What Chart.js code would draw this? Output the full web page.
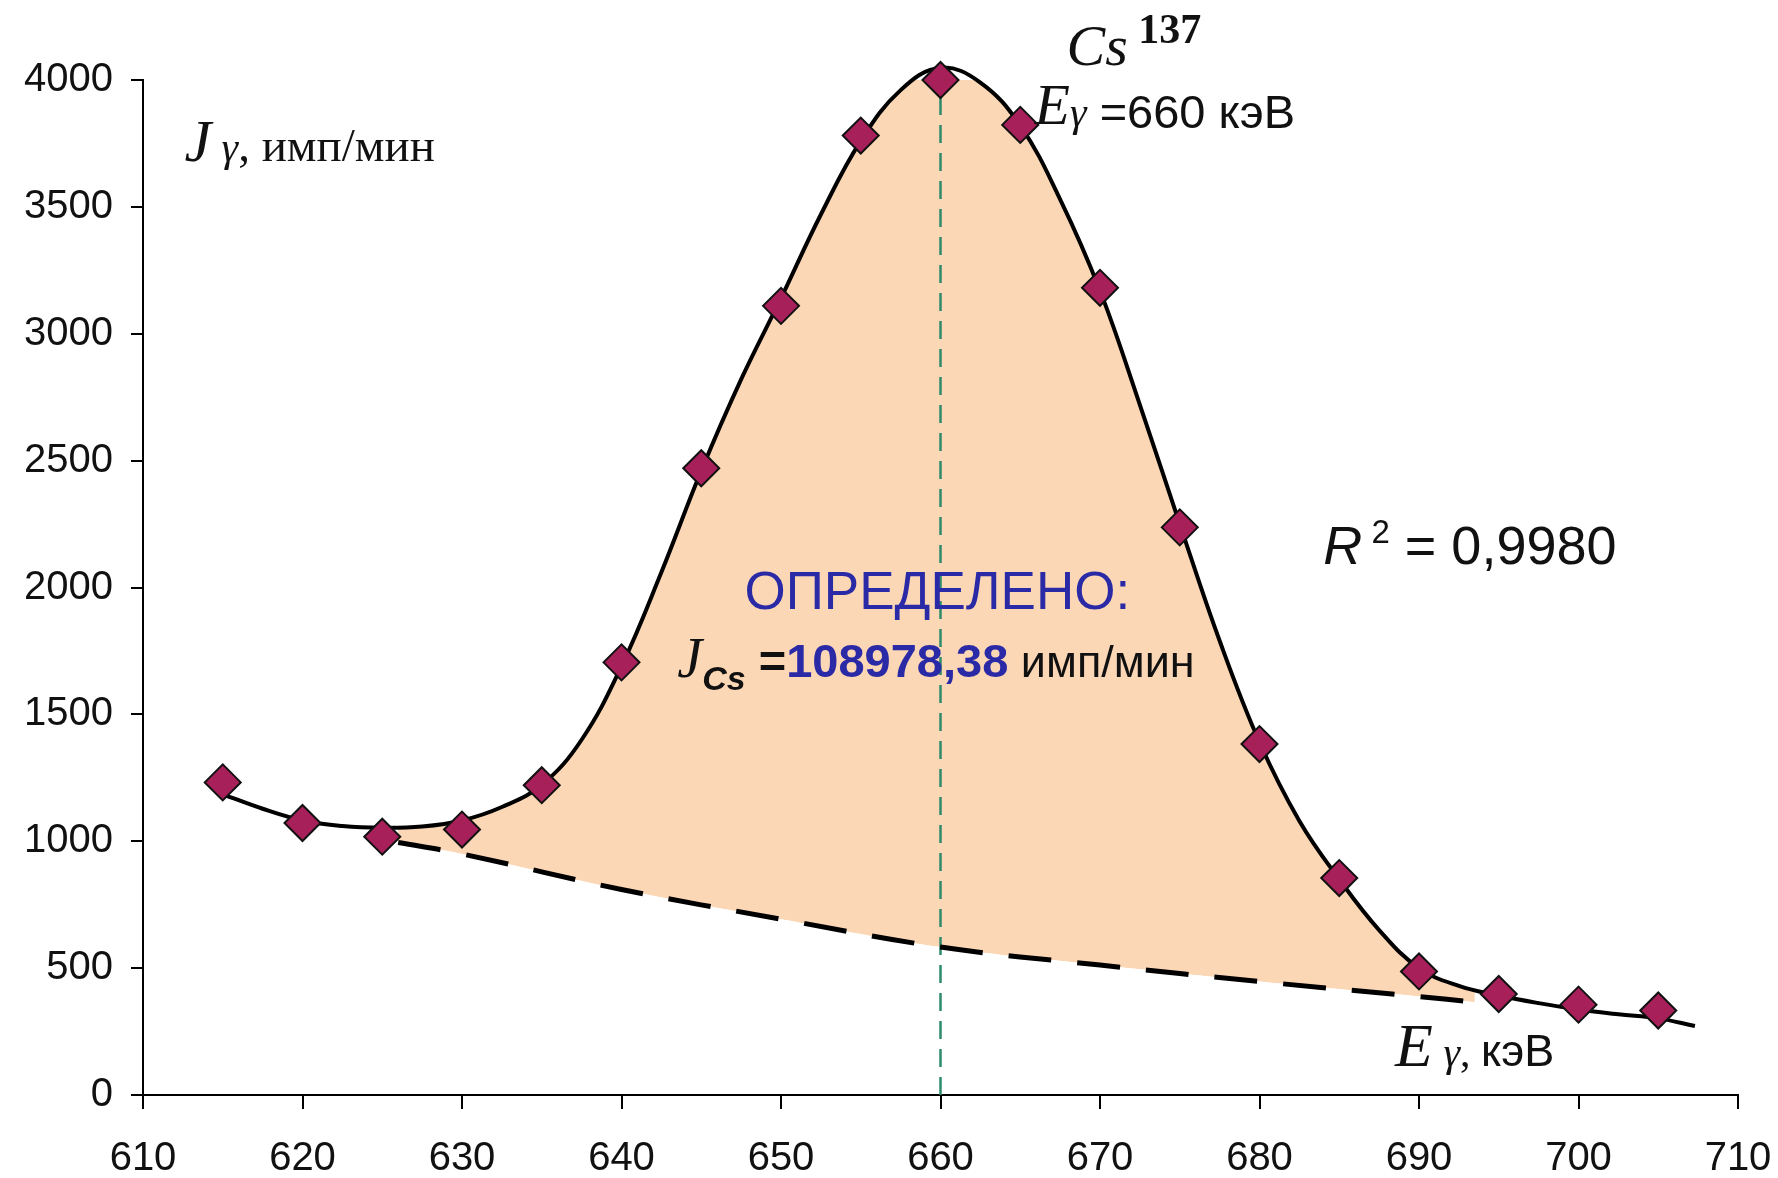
<!DOCTYPE html>
<html>
<head>
<meta charset="utf-8">
<title>Cs-137</title>
<script src="https://cdn.jsdelivr.net/npm/chart.js@4.4.1/dist/chart.umd.min.js"></script>
<style>
  html, body { margin: 0; padding: 0; background: #fff; }
  #chart { display: block; }
</style>
</head>
<body>
<canvas id="chart" width="1778" height="1178"></canvas>
<script>
// measured points (keV, counts/min)
const energy = [615, 620, 625, 630, 635, 640, 645, 650, 655, 660, 665, 670, 675, 680, 685, 690, 695, 700, 705];
const counts = [1232, 1072, 1018, 1046, 1221, 1705, 2470, 3110, 3781, 4000, 3823, 3181, 2237, 1383, 855, 487, 398, 356, 333];

// fitted curve
const fitEnergy = [615, 617.5, 620, 622.5, 625, 627.5, 630, 632.5, 635, 637.5, 640, 642.5, 645, 647.5, 650, 652.5, 655, 657.5, 660,
  662.5, 665, 667.5, 670, 672.5, 675, 677.5, 680, 682.5, 685, 687.5, 690, 692.5, 695, 697.5, 700, 702.5, 705, 707.3];
const fitCounts = [1185, 1128, 1082, 1060, 1053, 1058, 1082, 1135, 1222, 1400, 1690, 2060, 2460, 2820, 3140, 3470, 3760, 3960, 4048,
  3990, 3820, 3530, 3170, 2720, 2250, 1790, 1390, 1080, 850, 650, 500, 430, 392, 362, 337, 318, 302, 272];

// background line (dashed)
const baseEnergy = [626, 630, 640, 650, 660, 670, 680, 690, 693.5];
const baseCounts = [995, 950, 810, 693, 583, 512, 447, 388, 366];

// peak marker line
const peakEnergy = [660, 660];
const peakCounts = [0, 4000];

const xRange = [610, 710];
const yRange = [0, 4000];
const xStep = 10;
const yStep = 500;

const SANS = '"Liberation Sans", Arial, sans-serif';
const SERIF = '"Liberation Serif", "Times New Roman", serif';
const BLUE = '#2a2aa6';
const PEACH = '#fcd7b6';

const toXY = (xs, ys) => xs.map((x, i) => ({x: x, y: ys[i]}));

// text annotations, anchored in data units
const notes = [
  {x: 667.9, y: 4059, runs: [
    {text: 'Cs', font: `italic 58px ${SERIF}`},
    {text: ' 137', font: `bold 42px ${SERIF}`, dy: -22}]},
  {x: 665.9, y: 3811, runs: [
    {text: 'E', font: `italic 58px ${SERIF}`, dy: -4},
    {text: 'γ', font: `italic 42px ${SERIF}`, dy: -2},
    {text: ' =660 кэВ', font: `47px ${SANS}`}]},
  {x: 612.6, y: 3680, runs: [
    {text: 'J', font: `italic 60px ${SERIF}`},
    {text: ' γ', font: `italic 42px ${SERIF}`},
    {text: ', имп/мин', font: `47px ${SERIF}`}]},
  {x: 659.8, y: 1915, align: 'center', runs: [
    {text: 'ОПРЕДЕЛЕНО:', font: `53px ${SANS}`, color: BLUE}]},
  {x: 643.5, y: 1647, runs: [
    {text: 'J', font: `italic 56px ${SERIF}`},
    {text: 'Cs', font: `italic bold 34px ${SANS}`, dy: 13},
    {text: ' =', font: `bold 47px ${SANS}`},
    {text: '108978,38', font: `bold 47px ${SANS}`, color: BLUE},
    {text: ' имп/мин', font: `45px ${SANS}`}]},
  {x: 684.0, y: 2093, runs: [
    {text: 'R', font: `italic 54px ${SANS}`},
    {text: ' 2', font: `33px ${SANS}`, dy: -21},
    {text: ' = 0,9980', font: `54px ${SANS}`}]},
  {x: 688.5, y: 114, runs: [
    {text: 'E', font: `italic 62px ${SERIF}`},
    {text: ' γ', font: `italic 42px ${SERIF}`},
    {text: ', ', font: `42px ${SERIF}`},
    {text: 'кэВ', font: `45px ${SANS}`}]}
];

const drawRuns = (ctx, x, y, runs, align) => {
  let total = 0;
  runs.forEach(r => {
    ctx.font = r.font;
    r.w = ctx.measureText(r.text).width;
    total += r.w;
  });
  let cx = align === 'center' ? x - total / 2 : x;
  runs.forEach(r => {
    ctx.font = r.font;
    ctx.fillStyle = r.color || '#111';
    ctx.fillText(r.text, cx, y + (r.dy || 0));
    cx += r.w;
  });
};

const notesPlugin = {
  id: 'notes',
  afterDraw(chart) {
    const ctx = chart.ctx;
    const xs = chart.scales.x;
    const ys = chart.scales.y;
    ctx.save();
    ctx.textAlign = 'left';
    ctx.textBaseline = 'alphabetic';
    notes.forEach(n => {
      drawRuns(ctx, xs.getPixelForValue(n.x), ys.getPixelForValue(n.y), n.runs, n.align);
    });
    ctx.restore();
  }
};

const tickFont = {family: SANS, size: 40};

new Chart(document.getElementById('chart'), {
  type: 'line',
  data: {
    datasets: [
      {
        // 0: measured points
        data: toXY(energy, counts),
        showLine: false,
        pointStyle: 'rectRot',
        pointRadius: 18,
        pointBackgroundColor: '#a8205a',
        pointBorderColor: '#111',
        pointBorderWidth: 2,
        clip: false,
        order: 0
      },
      {
        // 1: fitted curve, filled down to the background line
        data: toXY(fitEnergy, fitCounts),
        borderColor: '#000',
        borderWidth: 4,
        tension: 0.4,
        pointRadius: 0,
        fill: {target: 2, above: PEACH, below: 'rgba(0,0,0,0)'},
        clip: false,
        order: 3
      },
      {
        // 2: background line
        data: toXY(baseEnergy, baseCounts),
        borderColor: '#000',
        borderWidth: 5,
        borderDash: [43, 26],
        tension: 0.4,
        pointRadius: 0,
        fill: false,
        order: 1
      },
      {
        // 3: peak position
        data: toXY(peakEnergy, peakCounts),
        borderColor: '#2e8b6b',
        borderWidth: 2.5,
        borderDash: [18, 10],
        pointRadius: 0,
        fill: false,
        order: 2
      }
    ]
  },
  options: {
    responsive: false,
    animation: false,
    layout: {padding: {top: 80, right: 40, left: 0, bottom: 0}},
    plugins: {
      legend: {display: false},
      tooltip: {enabled: false},
      filler: {drawTime: 'beforeDatasetsDraw'}
    },
    scales: {
      x: {
        type: 'linear',
        min: xRange[0],
        max: xRange[1],
        ticks: {stepSize: xStep, font: tickFont, color: '#111', padding: 26, maxRotation: 0, autoSkip: false,
          callback: v => String(v)},
        grid: {drawOnChartArea: false, color: '#000', lineWidth: 2, tickLength: 14},
        border: {color: '#000', width: 2},
        afterFit: s => {
          s.height = 83;
          s.paddingLeft = 0;
          s.paddingRight = 0;
        }
      },
      y: {
        type: 'linear',
        min: yRange[0],
        max: yRange[1],
        ticks: {stepSize: yStep, font: tickFont, color: '#111', padding: 18, callback: v => String(v)},
        grid: {drawOnChartArea: false, color: '#000', lineWidth: 2, tickLength: 12},
        border: {color: '#000', width: 2},
        afterFit: s => {
          s.width = 143;
          s.paddingTop = 0;
          s.paddingBottom = 0;
        }
      }
    }
  },
  plugins: [notesPlugin]
});
</script>
</body>
</html>
